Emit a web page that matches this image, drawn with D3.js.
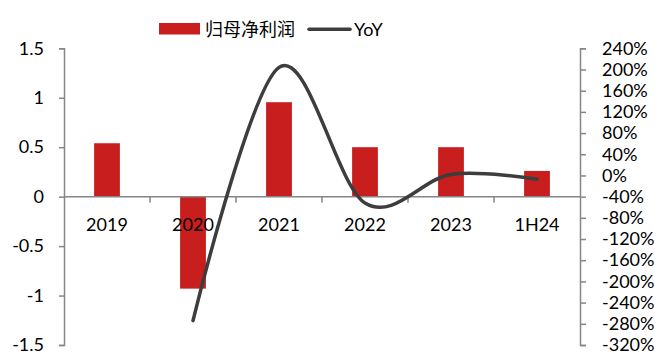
<!DOCTYPE html>
<html>
<head>
<meta charset="utf-8">
<script src="https://cdn.jsdelivr.net/npm/d3@7"></script>
<style>
  body { margin: 0; background: #fff; }
  text { font-family: Lato, "Noto Sans CJK SC", sans-serif; fill: #000; }
</style>
</head>
<body>
<div id="chart"></div>
<script>
const categories = ["2019", "2020", "2021", "2022", "2023", "1H24"];
const profit = [0.54, -0.93, 0.955, 0.50, 0.50, 0.26]; // 归母净利润
const yoy = [null, -274, 204, -52, 2, -7]; // YoY %
const leftTicks = [1.5, 1, 0.5, 0, -0.5, -1, -1.5];
const rightTicks = [240, 200, 160, 120, 80, 40, 0, -40, -80, -120, -160, -200, -240, -280, -320];

const width = 655, height = 356;
const plotLeft = 64, plotRight = 580, plotTop = 48.3, plotBottom = 345;
const axisColor = "#868686";

const svg = d3.select("#chart").append("svg")
  .attr("width", width)
  .attr("height", height);

const x = d3.scaleBand().domain(categories).range([plotLeft, plotRight]).padding(0);
const y = d3.scaleLinear().domain([-1.5, 1.5]).range([plotBottom, plotTop]);
const y2 = d3.scaleLinear().domain([-320, 240]).range([plotBottom, plotTop]);

// bars
const barW = x.bandwidth() * 0.3;
svg.selectAll("rect.bar")
  .data(profit)
  .enter()
  .append("rect")
  .attr("class", "bar")
  .attr("x", (d, i) => x(categories[i]) + (x.bandwidth() - barW) / 2)
  .attr("width", barW)
  .attr("y", d => y(Math.max(0, d)))
  .attr("height", d => Math.abs(y(d) - y(0)))
  .attr("fill", "#c81e1e");

// left axis
const gl = svg.append("g")
  .attr("transform", `translate(${plotLeft},0)`)
  .call(d3.axisLeft(y).tickValues(leftTicks).tickSize(5).tickPadding(15).tickFormat(d => String(d)));

// right axis
const gr = svg.append("g")
  .attr("transform", `translate(${plotRight},0)`)
  .call(d3.axisRight(y2).tickValues(rightTicks).tickSize(6).tickPadding(16).tickFormat(d => d + "%"));

[gl, gr].forEach(g => {
  g.select(".domain").attr("stroke", axisColor).attr("stroke-width", 1.5);
  g.selectAll(".tick line").attr("stroke", axisColor).attr("stroke-width", 1.5);
  g.selectAll(".tick text").style("font-size", "18px").attr("fill", "#000");
});

// category axis at zero
const gx = svg.append("g");
gx.append("line")
  .attr("x1", plotLeft).attr("x2", plotRight)
  .attr("y1", y(0)).attr("y2", y(0))
  .attr("stroke", axisColor).attr("stroke-width", 1.5);
gx.selectAll("line.ctick")
  .data(categories.slice(1))
  .enter()
  .append("line")
  .attr("class", "ctick")
  .attr("x1", d => x(d)).attr("x2", d => x(d))
  .attr("y1", y(0)).attr("y2", y(0) + 6)
  .attr("stroke", axisColor).attr("stroke-width", 1.5);
gx.selectAll("text")
  .data(categories)
  .enter()
  .append("text")
  .attr("x", d => x(d) + x.bandwidth() / 2)
  .attr("y", y(0) + 34)
  .attr("text-anchor", "middle")
  .style("font-size", "18px")
  .text(d => d);

// YoY line
const line = d3.line()
  .x(d => x(d[0]) + x.bandwidth() / 2)
  .y(d => y2(d[1]))
  .curve(d3.curveCardinal.tension(0));

svg.append("path")
  .datum(categories.map((c, i) => [c, yoy[i]]).filter(d => d[1] != null))
  .attr("d", line)
  .attr("fill", "none")
  .attr("stroke", "#3d3d3d")
  .attr("stroke-width", 3.5)
  .attr("stroke-linecap", "round")
  .attr("stroke-linejoin", "round");

// legend
const lg = svg.append("g");
lg.append("rect")
  .attr("x", 159).attr("y", 23).attr("width", 41).attr("height", 11.5)
  .attr("fill", "#c81e1e");
lg.append("text")
  .attr("x", 205).attr("y", 29.5).attr("dy", "0.36em")
  .style("font-family", "'Noto Sans CJK SC', sans-serif")
  .style("font-size", "18px")
  .text("归母净利润");
lg.append("line")
  .attr("x1", 309).attr("x2", 350).attr("y1", 29.3).attr("y2", 29.3)
  .attr("stroke", "#3d3d3d").attr("stroke-width", 3.5).attr("stroke-linecap", "round");
lg.append("text")
  .attr("x", 354).attr("y", 29.5).attr("dy", "0.36em")
  .style("font-size", "18px")
  .text("YoY");
</script>
</body>
</html>
